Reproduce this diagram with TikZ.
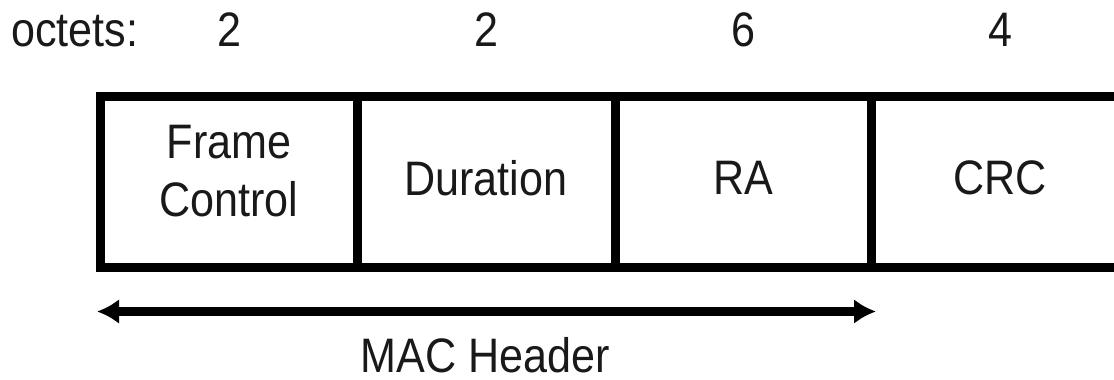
\documentclass[tikz,border=0pt]{standalone}
\usepackage{fontspec}
\setmainfont{Liberation Sans}
\usetikzlibrary{arrows.meta}
\newcommand\tallbox[1]{\scalebox{0.98}[1.1]{#1}}
\begin{document}
\begin{tikzpicture}[x=1pt,y=-1pt,
  lbl/.style={inner sep=0pt,font=\fontsize{44}{52}\selectfont,text=black!90},
  frameline/.style={line width=9pt,black},
  headtip/.tip={Latex[length=22pt,width=25pt]},
  hdrarrow/.style={draw=black,line width=9pt,headtip-headtip}]
\useasboundingbox (0,0) rectangle (1114,380);
% octets row
\node[lbl,anchor=base west] (oct) at (11,46) {\tallbox{octets:}};
\node[lbl,anchor=base] (o1) at (229,46) {\tallbox{2}};
\node[lbl,anchor=base] (o2) at (486,46) {\tallbox{2}};
\node[lbl,anchor=base] (o3) at (743,46) {\tallbox{6}};
\node[lbl,anchor=base] (o4) at (1000,46) {\tallbox{4}};
% frame
\draw[frameline] (96,96) -- (1140,96);
\draw[frameline] (96,267) -- (1140,267);
\draw[frameline] (100.5,91.5) -- (100.5,271.5);
\draw[frameline] (357.5,91.5) -- (357.5,271.5);
\draw[frameline] (615,91.5) -- (615,271.5);
\draw[frameline] (871,91.5) -- (871,271.5);
% field labels
\node[lbl] (fc) at (229,176) {\tallbox{\begin{tabular}{@{}c@{}}Frame\\Control\end{tabular}}};
\node[lbl] (du) at (486,178) {\tallbox{Duration}};
\node[lbl] (ra) at (743,178) {\tallbox{RA}};
\node[lbl] (crc) at (1000,178) {\tallbox{CRC}};
% MAC header arrow
\coordinate (al) at (97,311.5);
\coordinate (ar) at (876,311.5);
\path[hdrarrow] (al) -- (ar);
\node[lbl,anchor=base] (mac) at (485,372) {\tallbox{MAC Header}};
\end{tikzpicture}
\end{document}
